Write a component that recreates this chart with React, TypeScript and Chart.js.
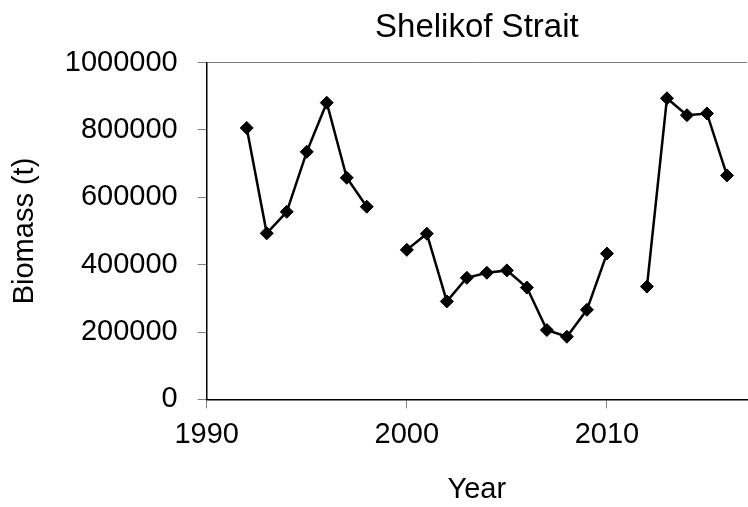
import React, { useEffect, useRef } from "react";
import { Chart, registerables } from "chart.js";

Chart.register(...registerables);

const years = [1992, 1993, 1994, 1995, 1996, 1997, 1998, 1999, 2000, 2001, 2002, 2003, 2004, 2005, 2006, 2007, 2008, 2009, 2010, 2011, 2012, 2013, 2014, 2015, 2016];
const biomass = [806000, 493000, 557000, 735000, 881000, 658000, 572000, null, 444000, 492000, 291000, 361000, 376000, 383000, 332000, 206000, 186000, 266000, 433000, null, 335000, 894000, 844000, 849000, 665000];
const xTicks = [1990, 2000, 2010];
const titleText = "Shelikof Strait";
const xTitle = "Year";
const yTitle = "Biomass (t)";

const FONT = "'Liberation Sans', Arial, Helvetica, sans-serif";

export default function App() {
  const ref = useRef<HTMLCanvasElement | null>(null);
  useEffect(() => {
    if (!ref.current) return;
    const chart = new Chart(ref.current, {
      type: "line",
      data: {
        datasets: [
          {
            data: years.map((y, i) => ({ x: y, y: biomass[i] })) as any,
            borderColor: "#000",
            backgroundColor: "#000",
            borderWidth: 2.5,
            pointStyle: "rectRot",
            pointRadius: 6.5,
            pointBackgroundColor: "#000",
            pointBorderColor: "#000",
            pointBorderWidth: 1,
            spanGaps: false,
            tension: 0,
            clip: false as any,
          },
        ],
      },
      options: {
        responsive: false,
        animation: false,
        layout: { autoPadding: false, padding: { left: 0, right: 1, top: 0, bottom: 0 } },
        plugins: {
          legend: { display: false },
          tooltip: { enabled: false },
          title: {
            display: true,
            fullSize: false,
            text: titleText,
            color: "#000",
            font: { family: FONT, size: 33, weight: "normal" },
            padding: { top: 8, bottom: 15 },
          },
        },
        scales: {
          x: {
            type: "linear",
            min: 1990,
            max: 2017,
            afterBuildTicks: (scale: any) => {
              scale.ticks = xTicks.map((v) => ({ value: v }));
            },
            ticks: {
              color: "#000",
              font: { family: FONT, size: 29 },
              padding: 9,
              maxRotation: 0,
              callback: (v: any) => String(v),
            },
            grid: { drawOnChartArea: false, tickLength: 9, tickColor: "#808080" },
            border: { color: "#000", width: 1.5 },
            title: {
              display: true,
              text: xTitle,
              color: "#000",
              font: { family: FONT, size: 29 },
              padding: { top: 11, bottom: 0 },
            },
          },
          y: {
            min: 0,
            max: 1000000,
            ticks: {
              stepSize: 200000,
              color: "#000",
              font: { family: FONT, size: 29 },
              padding: 20,
              callback: (v: any) => String(v),
            },
            grid: {
              drawOnChartArea: true,
              tickLength: 9,
              tickColor: "#808080",
              color: (ctx: any) => (ctx.tick && ctx.tick.value === 1000000 ? "#808080" : "rgba(0,0,0,0)"),
            },
            border: { color: "#000", width: 1.5 },
            title: {
              display: true,
              text: yTitle,
              color: "#000",
              font: { family: FONT, size: 29 },
              padding: { top: 8, bottom: 2 },
            },
          },
        },
      },
    });
    return () => chart.destroy();
  }, []);
  return (
    <div style={{ position: "absolute", left: 0, top: 0, width: 748, height: 507, background: "#fff" }}>
      <canvas ref={ref} width={748} height={507} />
    </div>
  );
}
